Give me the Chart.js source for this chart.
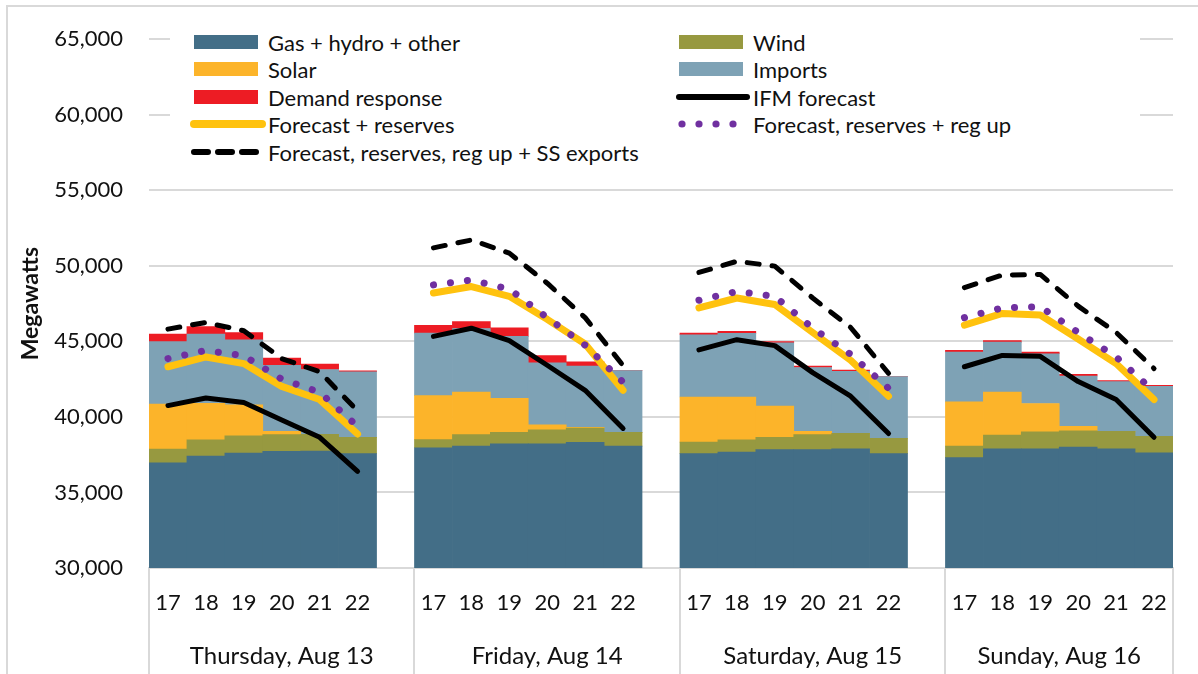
<!DOCTYPE html>
<html>
<head>
<meta charset="utf-8">
<script src="https://cdn.jsdelivr.net/npm/chart.js@4/dist/chart.umd.min.js"></script>
<style>
  html, body { margin: 0; padding: 0; background: #fff; }
  #wrap { position: relative; width: 1198px; height: 674px; overflow: hidden; font-family: Lato, sans-serif; }
  #frame { position: absolute; left: 6px; top: 5px; width: 1400px; height: 900px; border: 2px solid #d9d9d9; box-sizing: border-box; pointer-events: none; }
  #legend { position: absolute; left: 170px; top: 24px; width: 970px; height: 148px; background: #fff; }
  .item { position: absolute; display: flex; align-items: center; height: 24px; font-size: 22px; color: #111; white-space: nowrap; }
</style>
</head>
<body>
<div id="wrap">
  <canvas id="chart" width="1198" height="674"></canvas>
  <div id="legend"></div>
  <div id="frame"></div>
</div>
<script>
// hours shown for each day, and the day groups
const hours = ['17', '18', '19', '20', '21', '22'];
const days = ['Thursday, Aug 13', 'Friday, Aug 14', 'Saturday, Aug 15', 'Sunday, Aug 16'];

// stacked resources (MW), 6 hours x 4 days
const gas = [36960, 37400, 37610, 37720, 37740, 37570,
             37960, 38070, 38220, 38220, 38310, 38070,
             37570, 37680, 37830, 37830, 37890, 37570,
             37310, 37890, 37890, 38000, 37890, 37630];
const wind = [910, 1080, 1130, 1110, 1110, 1080,
              540, 755, 760, 930, 950, 910,
              760, 800, 825, 995, 1020, 1020,
              760, 910, 1130, 1085, 1150, 1090];
const solar = [2980, 2420, 2060, 210, 0, 0,
               2905, 2820, 2256, 330, 45, 0,
               2990, 2840, 2060, 218, 0, 0,
               2925, 2846, 1865, 284, 0, 0];
const imports = [4133, 4585, 4294, 4382, 4290, 4340,
                 4145, 4205, 4095, 4100, 4055, 4080,
                 4120, 4210, 4185, 4225, 4100, 4080,
                 3300, 3300, 3298, 3341, 3300, 3300];
const demandResponse = [500, 500, 480, 480, 350, 60,
                        520, 460, 560, 475, 285, 0,
                        110, 130, 80, 90, 90, 0,
                        105, 105, 110, 105, 65, 65];

// requirement lines (MW)
const ifmForecast = [40750, 41250, 40950, 39800, 38650, 36400,
                     45330, 45870, 45050, 43420, 41760, 39240,
                     44440, 45110, 44720, 42930, 41370, 38900,
                     43320, 44070, 44010, 42340, 41150, 38650];
const fcstReserves = [43320, 43970, 43530, 42020, 41150, 38870,
                      48200, 48630, 47980, 46460, 44830, 41760,
                      47220, 47870, 47440, 45590, 43750, 41370,
                      46070, 46850, 46740, 45160, 43530, 41150];
const fcstRegUp = [43860, 44400, 44050, 42500, 41630, 39370,
                   48740, 49060, 48460, 46570, 44750, 42300,
                   47720, 48300, 47980, 45880, 44140, 41890,
                   46570, 47220, 47290, 45590, 43970, 41690];
const fcstSSExports = [45810, 46250, 45700, 43860, 42990, 40400,
                       51190, 51710, 50840, 48850, 46570, 43400,
                       49560, 50300, 49980, 47870, 45920, 42880,
                       48560, 49390, 49430, 47330, 45590, 43200];

const yMin = 30000, yMax = 65000, yStep = 5000;

// one empty slot after each day except the last
function withGaps(arr) {
  const out = [];
  days.forEach((d, i) => {
    out.push(...arr.slice(i * 6, i * 6 + 6));
    if (i < days.length - 1) out.push(null);
  });
  return out;
}

const hourLabels = withGaps(hours.concat(hours, hours, hours)).map(h => h === null ? '' : h);
const groupStarts = [0, 7, 14, 21];

// day names sit on a half-slot axis (0..54), centred on each group
const dayHalfSlots = [7, 21, 35, 48];
const dayLabels = Array.from({ length: 55 }, () => '');
dayHalfSlots.forEach((p, i) => { dayLabels[p] = days[i]; });

Chart.defaults.font.family = 'Lato, sans-serif';
Chart.defaults.color = '#111';

function barSet(label, data, color) {
  return { type: 'bar', label: label, data: withGaps(data), backgroundColor: color,
    borderWidth: 0, barPercentage: 1, categoryPercentage: 1, stack: 'gen', order: 5 };
}
function lineSet(label, data, opts) {
  return Object.assign({ type: 'line', label: label, data: withGaps(data), fill: false,
    pointRadius: 0, tension: 0, spanGaps: false, borderJoinStyle: 'round',
    borderCapStyle: 'round', stack: label }, opts);
}

const chart = new Chart(document.getElementById('chart'), {
  type: 'bar',
  data: {
    labels: hourLabels,
    datasets: [
      barSet('Gas + hydro + other', gas, '#436e87'),
      barSet('Wind', wind, '#979940'),
      barSet('Solar', solar, '#fcb42a'),
      barSet('Imports', imports, '#7ea2b5'),
      barSet('Demand response', demandResponse, '#ed1c24'),
      lineSet('IFM forecast', ifmForecast, { borderColor: '#000', borderWidth: 5, order: 1 }),
      lineSet('Forecast + reserves', fcstReserves, { borderColor: '#ffc20e', borderWidth: 7, order: 4 }),
      lineSet('Forecast, reserves + reg up', fcstRegUp, { borderColor: '#7030a0', borderWidth: 7, borderDash: [0.1, 17], order: 3 }),
      lineSet('Forecast, reserves, reg up + SS exports', fcstSSExports, { borderColor: '#000', borderWidth: 5, borderDash: [12, 13], order: 2 })
    ]
  },
  options: {
    responsive: false,
    animation: false,
    layout: { padding: { top: 30, right: 25, left: 0, bottom: 0 } },
    plugins: { legend: { display: false }, tooltip: { enabled: false } },
    scales: {
      x: {
        type: 'category',
        afterFit: s => { s.height = 50; },
        grid: {
          drawOnChartArea: false, drawTicks: true, tickLength: 106, lineWidth: 2,
          color: c => (c.index === undefined || groupStarts.includes(c.index)) ? '#d9d9d9' : 'rgba(0,0,0,0)'
        },
        border: { display: true, color: '#d9d9d9', width: 2 },
        ticks: { autoSkip: false, maxRotation: 0, padding: -84, font: { size: 22 }, color: '#111' }
      },
      x2: {
        type: 'category', position: 'bottom', labels: dayLabels, offset: false,
        afterFit: s => { s.height = 56; },
        grid: { display: false },
        border: { display: false },
        ticks: { autoSkip: false, maxRotation: 0, padding: 16, font: { size: 24 }, color: '#111' }
      },
      y: {
        stacked: true, min: yMin, max: yMax,
        afterFit: s => { s.width = 149; },
        grid: { color: '#d9d9d9', lineWidth: 2, drawTicks: false },
        border: { display: false },
        ticks: { stepSize: yStep, padding: 26, font: { size: 22 }, color: '#111',
          callback: v => v.toLocaleString('en-US') },
        title: { display: true, text: 'Megawatts', font: { size: 23, weight: 'bold' }, color: '#111',
          padding: { top: 17, bottom: 0 } }
      }
    }
  }
});

// legend laid out like the original: two columns, row-major order
const ds = chart.data.datasets;
const legendBox = document.getElementById('legend');
const svgNS = 'http://www.w3.org/2000/svg';
function swatch(d) {
  const svg = document.createElementNS(svgNS, 'svg');
  svg.setAttribute('width', 78);
  svg.setAttribute('height', 24);
  let inner = '';
  if (d.type === 'bar') {
    inner = `<rect x="4" y="5" width="64" height="14" fill="${d.backgroundColor}"/>`;
  } else if (d.borderDash && d.borderDash[0] < 1) {
    inner = [7, 24, 41, 58].map(cx => `<circle cx="${cx}" cy="12" r="3.6" fill="${d.borderColor}"/>`).join('');
  } else if (d.borderDash) {
    inner = `<line x1="4" y1="12" x2="68" y2="12" stroke="${d.borderColor}" stroke-width="6" stroke-linecap="round" stroke-dasharray="14 10"/>`;
  } else {
    inner = `<line x1="4" y1="12" x2="72" y2="12" stroke="${d.borderColor}" stroke-width="${d.borderWidth + 1}" stroke-linecap="round"/>`;
  }
  svg.innerHTML = inner;
  return svg;
}
ds.forEach((d, i) => {
  const col = i % 2, row = Math.floor(i / 2);
  const el = document.createElement('div');
  el.className = 'item';
  el.style.left = (col === 0 ? 20 : 505) + 'px';
  el.style.top = [6, 33, 61, 88, 116][row] + 'px';
  el.appendChild(swatch(d));
  const t = document.createElement('span');
  t.textContent = d.label;
  el.appendChild(t);
  legendBox.appendChild(el);
});
</script>
</body>
</html>
